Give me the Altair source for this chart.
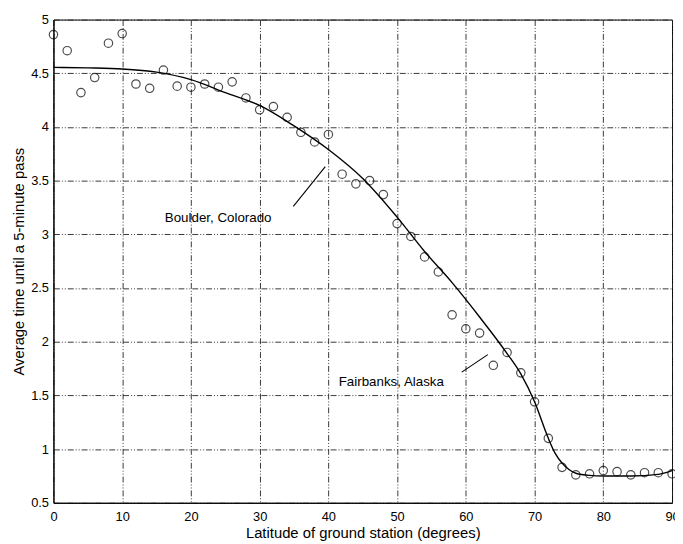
import altair as alt
import pandas as pd

# Observed points (every 2 degrees)
obs_lat = list(range(0, 92, 2))
obs_time = [4.86, 4.71, 4.32, 4.46, 4.78, 4.87, 4.40, 4.36, 4.53, 4.38,
            4.37, 4.40, 4.37, 4.42, 4.27, 4.16, 4.19, 4.09, 3.95, 3.86,
            3.93, 3.56, 3.47, 3.50, 3.37, 3.10, 2.98, 2.79, 2.65, 2.25,
            2.12, 2.08, 1.78, 1.90, 1.71, 1.44, 1.10, 0.83, 0.76, 0.77,
            0.80, 0.79, 0.76, 0.78, 0.78, 0.77]

# Fitted curve
fit_lat = [0, 5, 10, 15, 20, 25, 30, 35, 40, 45, 50, 54, 58, 62, 66, 68,
           70, 72, 73, 74, 75, 76, 78, 80, 84, 88, 90]
fit_time = [4.555, 4.55, 4.54, 4.51, 4.44, 4.32, 4.20, 4.01, 3.79, 3.52,
            3.16, 2.84, 2.55, 2.23, 1.89, 1.70, 1.44, 1.10, 0.96, 0.87,
            0.81, 0.775, 0.755, 0.75, 0.75, 0.765, 0.80]

# Annotations
ann_text = ["Boulder, Colorado", "Fairbanks, Alaska"]
ann_tx = [16.2, 41.5]
ann_ty = [3.15, 1.625]
ann_x1 = [34.9, 59.4]
ann_y1 = [3.26, 1.717]
ann_x2 = [39.55, 63.2]
ann_y2 = [3.63, 1.88]

x_ticks = list(range(0, 100, 10))
y_ticks = [0.5, 1, 1.5, 2, 2.5, 3, 3.5, 4, 4.5, 5]

obs = pd.DataFrame({"lat": obs_lat, "t": obs_time})
fit = pd.DataFrame({"lat": fit_lat, "t": fit_time})
ann = pd.DataFrame({"label": ann_text, "tx": ann_tx, "ty": ann_ty,
                    "x1": ann_x1, "y1": ann_y1, "x2": ann_x2, "y2": ann_y2})

FONT = "Liberation Sans"
dash = [6, 2, 1, 2, 1, 2]

xscale = alt.Scale(domain=[0, 90], nice=False, zero=False)
yscale = alt.Scale(domain=[0.5, 5], nice=False, zero=False)

xaxis = alt.Axis(values=x_ticks, title="Latitude of ground station (degrees)",
                 grid=True, gridDash=dash, gridColor="#222", gridOpacity=1,
                 gridWidth=0.9, ticks=False, labelPadding=8, labelFontSize=13,
                 labelFont=FONT, labelColor="black", titleFont=FONT,
                 titleFontSize=15, titleFontWeight="normal", titleColor="black",
                 titlePadding=2, domainColor="black", labelFlush=False)
yaxis = alt.Axis(values=y_ticks, format="~g",
                 title="Average time until a 5-minute pass",
                 grid=True, gridDash=dash, gridColor="#222", gridOpacity=1,
                 gridWidth=0.9, ticks=False, labelPadding=5, labelFontSize=13,
                 labelFont=FONT, labelColor="black", titleFont=FONT,
                 titleFontSize=15, titleFontWeight="normal", titleColor="black",
                 titlePadding=4, domainColor="black", labelFlush=False)

points = alt.Chart(obs).mark_point(shape="circle", filled=False, color="black",
                                   size=72, strokeWidth=1.2).encode(
    x=alt.X("lat:Q", scale=xscale, axis=xaxis),
    y=alt.Y("t:Q", scale=yscale, axis=yaxis),
)

curve = alt.Chart(fit).mark_line(color="black", strokeWidth=1.4,
                                 interpolate="monotone").encode(
    x=alt.X("lat:Q", scale=xscale),
    y=alt.Y("t:Q", scale=yscale),
)

leaders = alt.Chart(ann).mark_rule(color="black", strokeWidth=1.1).encode(
    x=alt.X("x1:Q", scale=xscale), y=alt.Y("y1:Q", scale=yscale),
    x2="x2:Q", y2="y2:Q",
)

labels = alt.Chart(ann).mark_text(align="left", baseline="middle", font=FONT,
                                  fontSize=13.5, color="black").encode(
    x=alt.X("tx:Q", scale=xscale), y=alt.Y("ty:Q", scale=yscale),
    text="label:N",
)

chart = alt.layer(curve, points, leaders, labels).properties(
    width=626, height=489,
    autosize=alt.AutoSizeParams(type="none"),
    padding={"left": 46, "top": 8.5, "right": 3, "bottom": 38.5},
    background="white",
).configure_view(stroke="black", strokeWidth=1)

chart.save("out.html", embed_options={"renderer": "svg", "actions": False})
